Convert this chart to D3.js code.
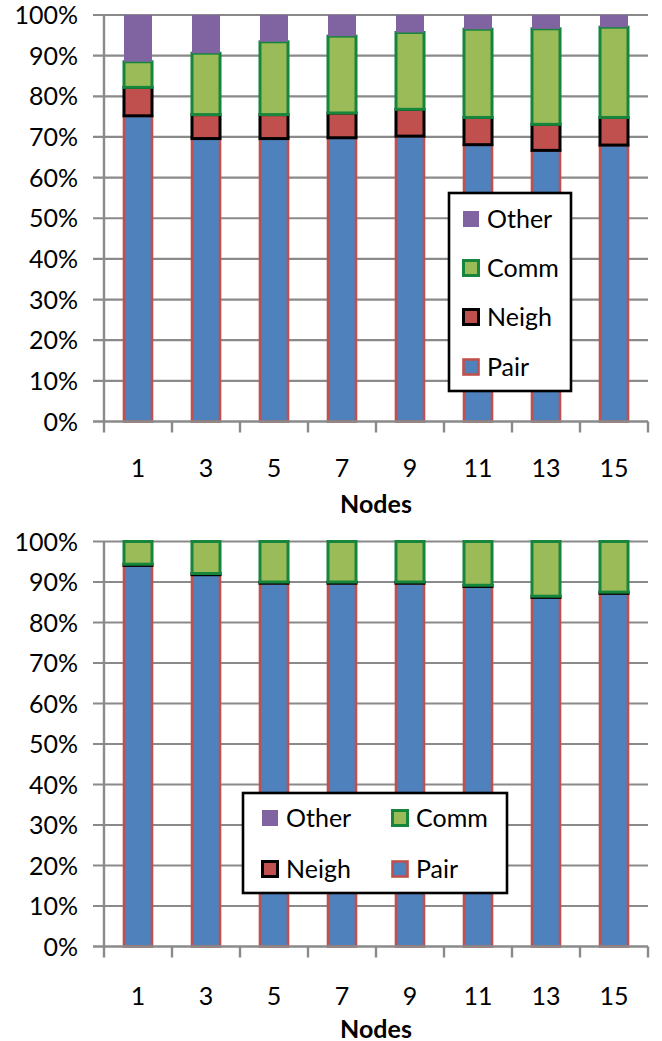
<!DOCTYPE html>
<html>
<head>
<meta charset="utf-8">
<script src="https://cdn.jsdelivr.net/npm/d3@7"></script>
<style>
  html, body { margin: 0; padding: 0; background: #fff; }
  svg { display: block; font-family: Lato, "Liberation Sans", sans-serif; }
</style>
</head>
<body>
<svg id="chart" width="662" height="1041"></svg>
<script>
// Node counts along the x axis
const nodes = ["1", "3", "5", "7", "9", "11", "13", "15"];
const seriesNames = ["Pair", "Neigh", "Comm", "Other"];
const yTicks = [0, 10, 20, 30, 40, 50, 60, 70, 80, 90, 100];

// Upper panel: share of time per category (%)
const pairTop  = [75.2, 69.6, 69.6, 69.8, 70.2, 68.1, 66.7, 68.0];
const neighTop = [7.0, 5.9, 5.9, 6.1, 6.6, 6.7, 6.4, 6.8];
const commTop  = [6.3, 15.1, 17.9, 18.9, 18.9, 21.7, 23.5, 22.2];
const otherTop = [11.5, 9.4, 6.6, 5.2, 4.3, 3.5, 3.4, 3.0];

// Lower panel: share of time per category (%)
const pairBottom  = [94.1, 91.8, 89.7, 89.7, 89.7, 88.9, 86.2, 87.2];
const neighBottom = [0.3, 0.3, 0.3, 0.3, 0.3, 0.3, 0.3, 0.3];
const commBottom  = [5.6, 7.9, 10.0, 10.0, 10.0, 10.8, 13.5, 12.5];
const otherBottom = [0, 0, 0, 0, 0, 0, 0, 0];

const style = {
  Pair:  { fill: "#4F81BD", stroke: "#C0504D", sw: 2.6 },
  Neigh: { fill: "#C0504D", stroke: "#000000", sw: 3 },
  Comm:  { fill: "#9BBB59", stroke: "#17863D", sw: 3 },
  Other: { fill: "#8064A2", stroke: "none", sw: 0 }
};
const gridColor = "#8A8A8A";
const fontSize = 25;

const svg = d3.select("#chart");

function buildRows(cols) {
  return nodes.map((n, i) => {
    const row = { node: n };
    seriesNames.forEach((s, k) => row[s] = cols[k][i]);
    return row;
  });
}

function drawPanel(opt) {
  const g = svg.append("g");
  const rows = buildRows(opt.cols);
  const x = d3.scaleBand().domain(nodes).range([opt.left, opt.right])
    .paddingInner(0.588).paddingOuter(0.294);
  const y = d3.scaleLinear().domain([0, 100]).range([opt.bottom, opt.top]);
  const step = x.step();

  // horizontal gridlines with short ticks to the left
  g.append("g").selectAll("line").data(yTicks.slice(1)).join("line")
    .attr("x1", opt.left - 11).attr("x2", opt.right)
    .attr("y1", d => y(d)).attr("y2", d => y(d))
    .attr("stroke", gridColor).attr("stroke-width", 2.2);

  // y tick labels
  g.append("g").selectAll("text").data(yTicks).join("text")
    .attr("x", opt.left - 26).attr("y", d => y(d))
    .attr("dy", "0.36em").attr("text-anchor", "end")
    .attr("font-size", fontSize).attr("fill", "#000")
    .text(d => d + "%");

  // stacked bars
  const stacked = d3.stack().keys(seriesNames)(rows);
  stacked.forEach(layer => {
    const st = style[layer.key];
    g.append("g").selectAll("rect").data(layer.filter(d => d[1] - d[0] > 0)).join("rect")
      .attr("x", d => x(d.data.node))
      .attr("width", x.bandwidth())
      .attr("y", d => y(d[1]))
      .attr("height", d => y(d[0]) - y(d[1]))
      .attr("fill", st.fill)
      .attr("stroke", st.stroke)
      .attr("stroke-width", st.sw);
  });

  // axes
  g.append("line")
    .attr("x1", opt.left).attr("x2", opt.left)
    .attr("y1", y(100)).attr("y2", y(0))
    .attr("stroke", gridColor).attr("stroke-width", 2.4);
  g.append("line")
    .attr("x1", opt.left - 11).attr("x2", opt.right)
    .attr("y1", y(0)).attr("y2", y(0))
    .attr("stroke", gridColor).attr("stroke-width", 2.4);
  g.append("g").selectAll("line").data(d3.range(nodes.length + 1)).join("line")
    .attr("x1", i => opt.left + i * step).attr("x2", i => opt.left + i * step)
    .attr("y1", y(0)).attr("y2", y(0) + 11)
    .attr("stroke", gridColor).attr("stroke-width", 2.4);

  // x tick labels
  g.append("g").selectAll("text").data(nodes).join("text")
    .attr("x", d => x(d) + x.bandwidth() / 2)
    .attr("y", y(0) + opt.tickLabelOffset)
    .attr("dy", "0.36em").attr("text-anchor", "middle")
    .attr("font-size", fontSize).attr("fill", "#000")
    .text(d => d);

  // axis title
  g.append("text")
    .attr("x", (opt.left + opt.right) / 2)
    .attr("y", y(0) + opt.titleOffset)
    .attr("dy", "0.36em").attr("text-anchor", "middle")
    .attr("font-size", fontSize).attr("font-weight", "bold").attr("fill", "#000")
    .text("Nodes");

  // legend
  const L = opt.legend;
  const lg = svg.append("g");
  lg.append("rect")
    .attr("x", L.x).attr("y", L.y).attr("width", L.w).attr("height", L.h)
    .attr("fill", "#fff").attr("stroke", "#000").attr("stroke-width", 2.6);
  L.items.forEach(it => {
    const st = style[it.name];
    const sz = it.name === "Other" ? 16 : 15;
    lg.append("rect")
      .attr("x", it.cx - sz / 2).attr("y", it.cy - sz / 2)
      .attr("width", sz).attr("height", sz)
      .attr("fill", st.fill).attr("stroke", st.stroke).attr("stroke-width", st.sw);
    lg.append("text")
      .attr("x", it.cx + 16).attr("y", it.cy)
      .attr("dy", "0.36em").attr("font-size", fontSize).attr("fill", "#000")
      .text(it.name);
  });
}

drawPanel({
  cols: [pairTop, neighTop, commTop, otherTop],
  left: 104, right: 648, top: 15, bottom: 421.5,
  tickLabelOffset: 46, titleOffset: 82,
  legend: {
    x: 449, y: 193, w: 122, h: 198,
    items: [
      { name: "Other", cx: 471, cy: 219 },
      { name: "Comm",  cx: 471, cy: 268 },
      { name: "Neigh", cx: 471, cy: 317 },
      { name: "Pair",  cx: 471, cy: 367 }
    ]
  }
});

drawPanel({
  cols: [pairBottom, neighBottom, commBottom, otherBottom],
  left: 104, right: 648, top: 541.5, bottom: 946.5,
  tickLabelOffset: 49, titleOffset: 82,
  legend: {
    x: 243, y: 793, w: 264, h: 100,
    items: [
      { name: "Other", cx: 270, cy: 818 },
      { name: "Comm",  cx: 400, cy: 818 },
      { name: "Neigh", cx: 270, cy: 869 },
      { name: "Pair",  cx: 400, cy: 869 }
    ]
  }
});
</script>
</body>
</html>
